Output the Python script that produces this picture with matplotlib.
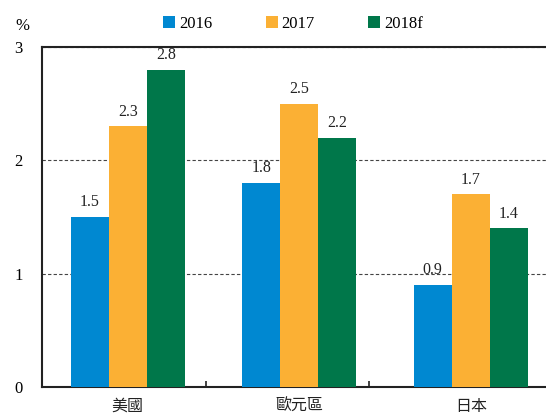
import matplotlib.pyplot as plt
import numpy as np

plt.rcParams['font.family'] = ['Liberation Serif', 'Noto Sans CJK TC', 'DejaVu Sans']

regions = ['美國', '歐元區', '日本']
series = ['2016', '2017', '2018f']
v2016 = [1.5, 1.8, 0.9]
v2017 = [2.3, 2.5, 1.7]
v2018 = [2.8, 2.2, 1.4]
colors = ['#0088d1', '#fbb034', '#00774a']

fig = plt.figure(figsize=(5.46, 4.16), dpi=100)
ax = fig.add_axes([42 / 546, 29 / 416, 514.5 / 546, 340 / 416])

x = np.arange(len(regions))
w = 38 / 171.5
bars = []
for i, (vals, c, name) in enumerate(zip([v2016, v2017, v2018], colors, series)):
    b = ax.bar(x + (i - 1) * w, vals, w, color=c, label=name, zorder=3)
    bars.append(b)
    for xi, v in zip(x + (i - 1) * w, vals):
        ax.text(xi, v + 0.06, f'{v:.1f}', ha='center', va='bottom', fontsize=11.5,
                color='#222222')

ax.set_xlim(-0.5, 2.5)
ax.set_ylim(0, 3)
ax.set_yticks([0, 1, 2, 3])
ax.set_yticklabels(['0', '1', '2', '3'], fontsize=12)
ax.yaxis.grid(True, linestyle=(0, (3, 2)), color='#444444', linewidth=0.8, zorder=0)
ax.tick_params(axis='y', length=0, pad=14)

ax.set_xticks([0.456, 1.407])
ax.set_xticklabels(['', ''])
ax.tick_params(axis='x', direction='in', length=4, width=1.2, color='#222222')
for xi, lab in zip(x, regions):
    ax.text(xi, -0.095, lab, ha='center', va='top', fontsize=11.5,
            family=['Noto Sans CJK TC'], color='#222222')

for s in ['left', 'bottom', 'top', 'right']:
    ax.spines[s].set_color('#222222')
    ax.spines[s].set_linewidth(1.5)

fig.text(22 / 546, 1 - 26 / 416, '%', ha='center', va='center', fontsize=12)

fig.legend(handles=bars, labels=series, loc='center', bbox_to_anchor=(0.537, 1 - 24 / 416),
           ncol=3, frameon=False, fontsize=12, handlelength=0.7, handleheight=0.7,
           handletextpad=0.25, columnspacing=3.2)

fig.savefig('out.png', dpi=100)
